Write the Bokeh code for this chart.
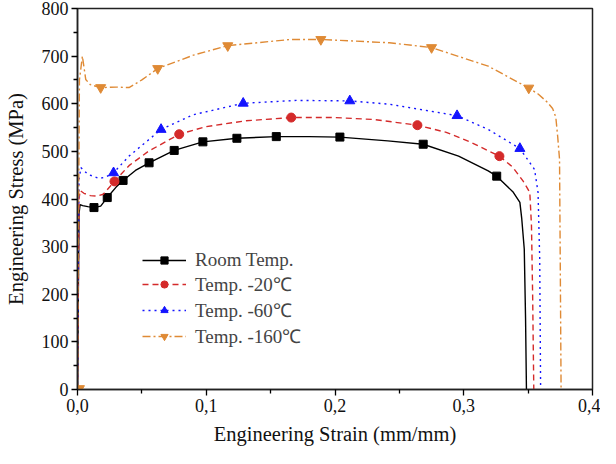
from bokeh.plotting import figure
from bokeh.models import (FixedTicker, CustomJSTickFormatter, Legend, LegendItem, Range1d)
from bokeh.embed import file_html
from bokeh.resources import INLINE

# ---- data ----
room_x = [0, 0.0012, 0.002, 0.004, 0.008, 0.0128, 0.018, 0.0231, 0.03, 0.0354, 0.045, 0.0556, 0.0751,
          0.0974, 0.1238, 0.1544, 0.18, 0.2038, 0.241, 0.2685, 0.296, 0.319, 0.3256, 0.3385, 0.3436,
          0.345, 0.347, 0.348, 0.3487]
room_y = [0, 370, 388, 386, 384, 382, 385, 403, 425, 439, 460, 476, 502,
          520, 527.5, 531, 531, 530, 522, 515, 490, 459, 448, 414, 393,
          360, 295, 150, 0]
room_mx = [0.0128, 0.0231, 0.0354, 0.0556, 0.0751, 0.0974, 0.1238, 0.1544, 0.2038, 0.2685, 0.3256]
room_my = [382, 403, 439, 476, 502, 520, 527.5, 531, 530, 515, 448]

m20_x = [0, 0.0012, 0.002, 0.005, 0.01, 0.015, 0.02, 0.0287, 0.04, 0.055, 0.079, 0.1, 0.13, 0.166,
         0.2, 0.23, 0.264, 0.2864, 0.3064, 0.3277, 0.338, 0.346, 0.3513, 0.3526, 0.3535, 0.3544]
m20_y = [0, 400, 418, 412, 407, 406, 410, 437, 470, 500, 536, 552, 564, 571,
         571, 567, 555, 540, 518, 490, 467, 438, 414, 344, 200, 0]
m20_mx = [0.0287, 0.079, 0.166, 0.264, 0.3277]
m20_my = [437, 536, 571, 555, 490]

m60_x = [0, 0.0012, 0.0026, 0.008, 0.0167, 0.022, 0.028, 0.04, 0.0649, 0.09, 0.1287, 0.17, 0.2115,
         0.2423, 0.2948, 0.319, 0.3436, 0.355, 0.3577, 0.359, 0.3597]
m60_y = [0, 440, 466, 452, 443, 446, 455, 490, 546, 577, 601, 607, 606,
         599, 575, 546, 506, 462, 414, 274, 0]
m60_mx = [0.028, 0.0649, 0.1287, 0.2115, 0.2948, 0.3436]
m60_my = [455, 546, 601, 606, 575, 506]

m160_x = [0, 0.0015, 0.0038, 0.0064, 0.01, 0.018, 0.03, 0.04, 0.05, 0.0623, 0.09, 0.1167, 0.1654,
          0.189, 0.2423, 0.275, 0.319, 0.3505, 0.358, 0.365, 0.369, 0.3715, 0.373, 0.3744, 0.375, 0.3756]
m160_y = [0, 650, 700, 651, 640, 634, 635, 634, 650, 674, 702, 722, 735,
          735, 728, 718, 679, 633, 620, 603, 590, 572, 530, 483, 250, 0]
m160_mx = [0.0015, 0.018, 0.0623, 0.1167, 0.189, 0.275, 0.3505]
m160_my = [2, 634, 674, 722, 735, 718, 633]

labels = ["Room Temp.", "Temp. -20\u2103", "Temp. -60\u2103", "Temp. -160\u2103"]
x_ticks = [0, 0.1, 0.2, 0.3, 0.4]
x_minor = [0.05, 0.15, 0.25, 0.35]
y_ticks = [0, 100, 200, 300, 400, 500, 600, 700, 800]
y_minor = [50, 150, 250, 350, 450, 550, 650, 750]
x_title = "Engineering Strain (mm/mm)"
y_title = "Engineering Stress (MPa)"

FONT = "Times New Roman"

p = figure(width=600, height=448, output_backend="svg", toolbar_location=None,
           x_range=Range1d(0, 0.4), y_range=Range1d(0, 800),
           min_border_left=77, min_border_right=8, min_border_top=8, min_border_bottom=59)
p.xgrid.visible = False
p.ygrid.visible = False
p.outline_line_color = "#222222"
p.outline_line_width = 1.5
p.background_fill_color = "white"
p.border_fill_color = "white"

series = [
    (room_x, room_y, room_mx, room_my, "#000000", "solid", "square", 8),
    (m20_x, m20_y, m20_mx, m20_my, "#d42a2a", "6 4", "circle", 9),
    (m60_x, m60_y, m60_mx, m60_my, "#1414ff", "2 4", "triangle", 10),
    (m160_x, m160_y, m160_mx, m160_my, "#df8a35", "8 3 2 3", "inverted_triangle", 10),
]
items = []
for (lx, ly, mx, my, col, dash, mk, sz), lab in zip(series, labels):
    r1 = p.line(lx, ly, line_color=col, line_width=1.4, line_dash=dash)
    r2 = p.scatter(mx, my, marker=mk, size=sz, fill_color=col, line_color=col)
    items.append(LegendItem(label=lab, renderers=[r1, r2]))

legend = Legend(items=items, location=(65, 40), glyph_width=44, glyph_height=18,
                label_text_font=FONT, label_text_font_size="19px", label_height=18,
                spacing=0, padding=0, margin=0, border_line_color=None,
                background_fill_alpha=0, label_standoff=9)
p.add_layout(legend, "center")

for ax in (p.xaxis[0], p.yaxis[0]):
    ax.axis_line_width = 1.5
    ax.axis_line_color = "#222222"
    ax.major_tick_line_width = 1.3
    ax.minor_tick_line_width = 1.3
    ax.major_tick_out = 6
    ax.major_tick_in = 0
    ax.minor_tick_out = 4
    ax.minor_tick_in = 0
    ax.major_label_standoff = 3
    ax.major_label_text_font = FONT
    ax.major_label_text_font_size = "18px"
    ax.major_label_text_color = "#111111"
    ax.axis_label_text_font = FONT
    ax.axis_label_text_font_size = "20.5px"
    ax.axis_label_text_font_style = "normal"
    ax.axis_label_text_color = "#111111"

p.xaxis[0].ticker = FixedTicker(ticks=x_ticks, minor_ticks=x_minor)
p.yaxis[0].ticker = FixedTicker(ticks=y_ticks, minor_ticks=y_minor)
p.xaxis[0].formatter = CustomJSTickFormatter(code="return tick.toFixed(1).replace('.', ',');")
p.xaxis.axis_label = x_title
p.yaxis.axis_label = y_title
p.xaxis[0].axis_label_standoff = 8
p.yaxis[0].axis_label_standoff = 12

open("out.html", "w").write(file_html(p, INLINE))
